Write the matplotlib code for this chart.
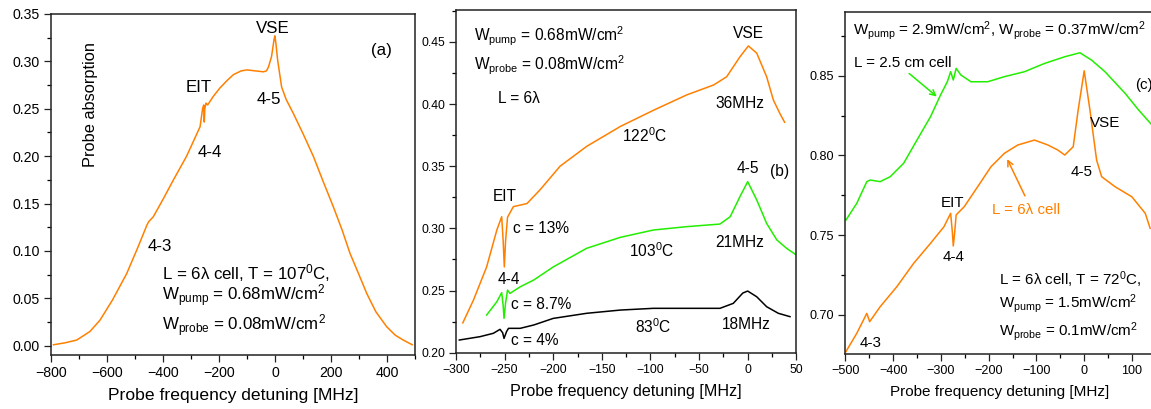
import matplotlib
matplotlib.use("Agg")
import matplotlib.pyplot as plt
from matplotlib.ticker import MultipleLocator, FormatStrFormatter

plt.rcParams['font.family'] = ['Liberation Sans', 'DejaVu Sans']
plt.rcParams['mathtext.fontset'] = 'custom'
plt.rcParams['mathtext.rm'] = 'Liberation Sans'
plt.rcParams['mathtext.it'] = 'Liberation Sans'
plt.rcParams['mathtext.bf'] = 'Liberation Sans:bold'

ORANGE = '#FF8000'
GREEN = '#22EE00'

# ---------------- Panel (a) data ----------------
a_x = [-790, -750, -707, -660, -624, -580, -529, -490, -457, -450, -434, -400, -362, -315,
       -267, -258, -254, -252, -250, -246, -240, -220, -196, -170, -148, -120, -100, -70,
       -41, -30, -23, -12, -3, 0, 4, 10, 24, 40, 66, 100, 137, 170, 208, 240, 268, 300,
       328, 360, 399, 430, 458, 490]
a_y = [0.001, 0.003, 0.006, 0.015, 0.027, 0.048, 0.076, 0.103, 0.127, 0.131, 0.136, 0.154,
       0.175, 0.200, 0.231, 0.250, 0.254, 0.236, 0.250, 0.256, 0.254, 0.263, 0.272, 0.280,
       0.286, 0.290, 0.291, 0.290, 0.289, 0.290, 0.294, 0.305, 0.323, 0.327, 0.318, 0.301,
       0.273, 0.260, 0.245, 0.224, 0.200, 0.175, 0.147, 0.122, 0.0975, 0.075, 0.055,
       0.036, 0.020, 0.011, 0.006, 0.001]

# ---------------- Panel (b) data ----------------
b122_x = [-293, -282, -268.5, -258, -253, -251.5, -250.3, -249, -247, -241, -227, -213.6,
          -193, -165.6, -131, -97, -62.7, -35, -21.6, -8, 0.7, 9.3, 19.5, 26.4, 33, 38]
b122_y = [0.224, 0.2424, 0.269, 0.2987, 0.3094, 0.290, 0.269, 0.290, 0.309, 0.3175, 0.320,
          0.331, 0.350, 0.366, 0.382, 0.395, 0.4074, 0.4154, 0.422, 0.438, 0.4468, 0.441,
          0.422, 0.4033, 0.3926, 0.3854]

b103_x = [-268.5, -258, -253, -251.5, -250.6, -249, -247, -244.5, -234, -220, -200,
          -165.6, -131, -97, -62.7, -28.5, -18, -8, 0, 9.3, 19.5, 30, 40, 50]
b103_y = [0.2303, 0.241, 0.2483, 0.238, 0.2276, 0.240, 0.2504, 0.2477, 0.253, 0.2585,
          0.269, 0.284, 0.2928, 0.2987, 0.3014, 0.3035, 0.3094, 0.3255, 0.3376, 0.3229,
          0.304, 0.2907, 0.284, 0.2786]

b83_x = [-296.6, -275.3, -261.6, -254.7, -252, -250.6, -248, -246, -234, -220, -200,
         -165.6, -131, -97, -62.7, -28.5, -14.8, -5, 0, 9.3, 19.5, 31.5, 43.5]
b83_y = [0.2102, 0.2129, 0.2156, 0.2188, 0.2160, 0.2115, 0.2170, 0.2196, 0.2196, 0.2223,
         0.2276, 0.2317, 0.2343, 0.2357, 0.2357, 0.2357, 0.2397, 0.2480, 0.2496, 0.245,
         0.237, 0.2317, 0.229]

# ---------------- Panel (c) data ----------------
c25_x = [-498.6, -476, -455, -448, -427, -406, -378, -350, -321.6, -300.6, -286.5, -279.5,
         -274, -268, -258, -237, -202, -167, -125, -83, -40.7, -9, 15.4, 43.5, 85.7, 113.8, 142]
c25_y = [0.7594, 0.7699, 0.7835, 0.7845, 0.7835, 0.7866, 0.795, 0.8096, 0.8243, 0.8379,
         0.8462, 0.8525, 0.8473, 0.8546, 0.8504, 0.8462, 0.8462, 0.8494, 0.8525, 0.8577,
         0.8619, 0.8644, 0.8598, 0.8525, 0.8389, 0.8285, 0.819]

c6_x = [-498.6, -476, -455, -449, -427, -392, -357, -321.6, -293.5, -279.5, -276, -274,
        -271, -268, -251, -223, -195, -167, -139, -104, -76, -55, -40.7, -23, -12.6, 0,
        12, 26, 36.5, 64.6, 99.7, 127.8, 138]
c6_y = [0.6768, 0.6883, 0.7008, 0.6956, 0.705, 0.7176, 0.7322, 0.7448, 0.7552, 0.7636,
        0.752, 0.7431, 0.752, 0.7626, 0.7678, 0.7803, 0.7929, 0.8013, 0.8065, 0.8096,
        0.8065, 0.8033, 0.8002, 0.8054, 0.8285, 0.8531, 0.8285, 0.797, 0.7866, 0.7803,
        0.774, 0.7636, 0.7542]

W, H = 1151, 409
fig = plt.figure(figsize=(W / 100, H / 100), dpi=100)


def add_axes(l, r, t, b):
    return fig.add_axes([l / W, (H - b) / H, (r - l) / W, (b - t) / H])


def style(ax, tick_fs, label_fs):
    for s in ['top', 'right', 'left', 'bottom']:
        ax.spines[s].set_linewidth(1.1)
        ax.spines[s].set_color('#222222')
    ax.tick_params(which='major', direction='out', length=5, width=0.9, labelsize=tick_fs,
                   top=False, right=False, pad=3, colors='#222222')
    ax.tick_params(which='minor', direction='out', length=3, width=0.9, top=False, right=False)
    for lab in ax.get_xticklabels() + ax.get_yticklabels():
        lab.set_color('black')
    ax.set_xlabel('Probe frequency detuning [MHz]', fontsize=label_fs, labelpad=6)


# ---------- (a) ----------
FS = 12.2
ax = add_axes(50.7, 415, 14, 355)
ax.plot(a_x, a_y, color=ORANGE, lw=1.1)
ax.set_xlim(-800, 500)
ax.set_ylim(-0.0098, 0.35)
ax.xaxis.set_major_locator(MultipleLocator(200))
ax.xaxis.set_minor_locator(MultipleLocator(100))
ax.yaxis.set_major_locator(MultipleLocator(0.05))
ax.yaxis.set_minor_locator(MultipleLocator(0.025))
ax.yaxis.set_major_formatter(FormatStrFormatter('%.2f'))
style(ax, 10.2, 12.6)
ax.text(0.11, 0.918, 'Probe absorption', rotation=90, transform=ax.transAxes,
        fontsize=11.8, ha='center', va='top')
ax.text(-8, 0.335, 'VSE', fontsize=FS, ha='center', va='center')
ax.text(381, 0.312, '(a)', fontsize=FS, ha='center', va='center')
ax.text(-273, 0.2727, 'EIT', fontsize=FS, ha='center', va='center')
ax.text(-23, 0.26, '4-5', fontsize=FS, ha='center', va='center')
ax.text(-231, 0.2037, '4-4', fontsize=FS, ha='center', va='center')
ax.text(-412, 0.1045, '4-3', fontsize=FS, ha='center', va='center')
ax.text(-402, 0.077, r'L = 6λ cell, T = 107$^0$C,', fontsize=FS, ha='left', va='center')
ax.text(-402, 0.0525, r'W$_{\rm pump}$ = 0.68mW/cm$^2$', fontsize=FS, ha='left', va='center')
ax.text(-402, 0.0208, r'W$_{\rm probe}$ = 0.08mW/cm$^2$', fontsize=FS, ha='left', va='center')

# ---------- (b) ----------
FS = 11.2
ax = add_axes(456, 796.3, 10, 352.7)
ax.plot(b122_x, b122_y, color=ORANGE, lw=1.1)
ax.plot(b103_x, b103_y, color=GREEN, lw=1.1)
ax.plot(b83_x, b83_y, color='black', lw=1.1)
ax.set_xlim(-300, 50)
ax.set_ylim(0.2, 0.4757)
ax.xaxis.set_major_locator(MultipleLocator(50))
ax.xaxis.set_minor_locator(MultipleLocator(25))
ax.yaxis.set_major_locator(MultipleLocator(0.05))
ax.yaxis.set_minor_locator(MultipleLocator(0.025))
ax.yaxis.set_major_formatter(FormatStrFormatter('%.2f'))
style(ax, 8.8, 11.6)
ax.text(-281, 0.4543, r'W$_{\rm pump}$ = 0.68mW/cm$^2$', fontsize=FS, ha='left', va='center')
ax.text(-281, 0.4315, r'W$_{\rm probe}$ = 0.08mW/cm$^2$', fontsize=FS, ha='left', va='center')
ax.text(-256.5, 0.4047, 'L = 6λ', fontsize=FS, ha='left', va='center')
ax.text(0.7, 0.457, 'VSE', fontsize=FS, ha='center', va='center')
ax.text(-8, 0.4006, '36MHz', fontsize=FS, ha='center', va='center')
ax.text(-105.6, 0.3744, r'122$^0$C', fontsize=FS, ha='center', va='center')
ax.text(0.7, 0.3483, '4-5', fontsize=FS, ha='center', va='center')
ax.text(33, 0.346, '(b)', fontsize=FS, ha='center', va='center')
ax.text(-250.3, 0.3255, 'EIT', fontsize=FS, ha='center', va='center')
ax.text(-241, 0.300, 'c = 13%', fontsize=FS, ha='left', va='center')
ax.text(-8.6, 0.2885, '21MHz', fontsize=FS, ha='center', va='center')
ax.text(-98.7, 0.2821, r'103$^0$C', fontsize=FS, ha='center', va='center')
ax.text(-246, 0.259, '4-4', fontsize=FS, ha='center', va='center')
ax.text(-243.8, 0.2384, 'c = 8.7%', fontsize=FS, ha='left', va='center')
ax.text(-97, 0.2209, r'83$^0$C', fontsize=FS, ha='center', va='center')
ax.text(-1.7, 0.2223, '18MHz', fontsize=FS, ha='center', va='center')
ax.text(-243.8, 0.2102, 'c = 4%', fontsize=FS, ha='left', va='center')

# ---------- (c) ----------
FS = 10.9
ax = add_axes(845.3, 1153, 12.3, 354)
ax.plot(c25_x, c25_y, color=GREEN, lw=1.1)
ax.plot(c6_x, c6_y, color=ORANGE, lw=1.1)
ax.set_xlim(-500, 144)
ax.set_ylim(0.6753, 0.8898)
ax.xaxis.set_major_locator(MultipleLocator(100))
ax.xaxis.set_minor_locator(MultipleLocator(50))
ax.yaxis.set_major_locator(MultipleLocator(0.05))
ax.yaxis.set_minor_locator(MultipleLocator(0.025))
ax.yaxis.set_major_formatter(FormatStrFormatter('%.2f'))
style(ax, 9.1, 11.0)
ax.text(-483, 0.8782, r'W$_{\rm pump}$ = 2.9mW/cm$^2$, W$_{\rm probe}$ = 0.37mW/cm$^2$',
        fontsize=FS, ha='left', va='center')
ax.text(-481.7, 0.8577, 'L = 2.5 cm cell', fontsize=FS, ha='left', va='center')
ax.annotate('', xy=(-304, 0.8358), xytext=(-370.8, 0.8525),
            arrowprops=dict(arrowstyle='->', color=GREEN, lw=1.1))
ax.text(124, 0.8441, '(c)', fontsize=FS, ha='center', va='center')
ax.text(12, 0.8205, 'VSE', fontsize=FS, ha='left', va='center')
ax.text(-5.6, 0.7897, '4-5', fontsize=FS, ha='center', va='center')
ax.text(-276, 0.7699, 'EIT', fontsize=FS, ha='center', va='center')
ax.text(-121.5, 0.7657, 'L = 6λ cell', fontsize=FS, ha='center', va='center', color=ORANGE)
ax.annotate('', xy=(-163.6, 0.7992), xytext=(-121.5, 0.773),
            arrowprops=dict(arrowstyle='->', color=ORANGE, lw=1.1))
ax.text(-272.5, 0.7364, '4-4', fontsize=FS, ha='center', va='center')
ax.text(-177.7, 0.7222, r'L = 6λ cell, T = 72$^0$C,', fontsize=FS, ha='left', va='center')
ax.text(-177.7, 0.7071, r'W$_{\rm pump}$ = 1.5mW/cm$^2$', fontsize=FS, ha='left', va='center')
ax.text(-177.7, 0.6893, r'W$_{\rm probe}$ = 0.1mW/cm$^2$', fontsize=FS, ha='left', va='center')
ax.text(-448, 0.682, '4-3', fontsize=FS, ha='center', va='center')

fig.savefig('out.png', dpi=100)
